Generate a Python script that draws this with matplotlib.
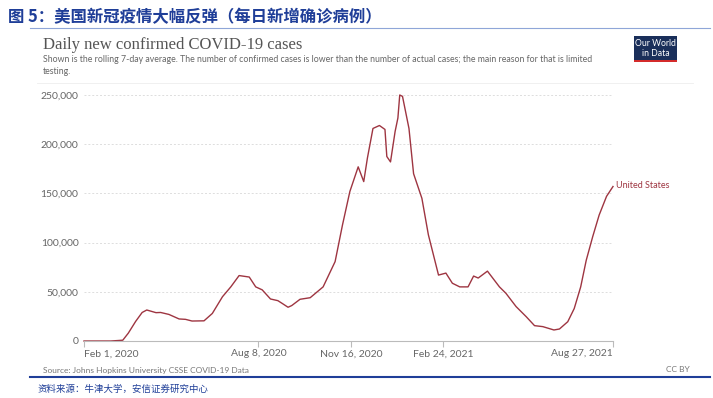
import matplotlib
matplotlib.use("Agg")
import matplotlib.pyplot as plt
import matplotlib.patches as mpatches
import numpy as np
import pandas as pd

plt.rcParams['font.family'] = ['Lato', 'DejaVu Sans']

# Data (7-day average, daily new confirmed cases, US)
dates = ["2020-02-01", "2020-03-01", "2020-03-14", "2020-03-20", "2020-03-28", "2020-04-04",
         "2020-04-09", "2020-04-19", "2020-04-24", "2020-05-03", "2020-05-14", "2020-05-21",
         "2020-05-28", "2020-06-10", "2020-06-19", "2020-06-30", "2020-07-09", "2020-07-18",
         "2020-07-29", "2020-08-05", "2020-08-12", "2020-08-21", "2020-08-29", "2020-09-03",
         "2020-09-09", "2020-09-13", "2020-09-22", "2020-10-03", "2020-10-17", "2020-10-30",
         "2020-11-07", "2020-11-15", "2020-11-24", "2020-11-30", "2020-12-04", "2020-12-10",
         "2020-12-17", "2020-12-23", "2020-12-25", "2020-12-29", "2021-01-03", "2021-01-06",
         "2021-01-08", "2021-01-11", "2021-01-18", "2021-01-23", "2021-02-01", "2021-02-08",
         "2021-02-19", "2021-02-27", "2021-03-06", "2021-03-14", "2021-03-23", "2021-03-29",
         "2021-04-03", "2021-04-13", "2021-04-26", "2021-05-03", "2021-05-14", "2021-05-25",
         "2021-06-03", "2021-06-12", "2021-06-24", "2021-06-30", "2021-07-09", "2021-07-16",
         "2021-07-23", "2021-07-29", "2021-08-05", "2021-08-12", "2021-08-20", "2021-08-27"]
cases = [0, 0, 800, 8000, 20000, 29000,
         31500, 28800, 29000, 27000, 22400, 22000,
         20300, 20500, 28000, 45000, 55000, 66500,
         65000, 55000, 52000, 42700, 41000, 38000,
         34300, 36000, 42400, 44000, 55000, 80700,
         118000, 152000, 177000, 162000, 186000, 216000,
         219000, 215000, 187500, 182000, 213000, 226600,
         250000, 248600, 216000, 170000, 145000, 108000,
         67000, 69000, 58700, 55000, 55000, 66000,
         64000, 71000, 55000, 48500, 35000, 24700,
         15600, 14600, 11200, 12200, 19600, 33000,
         55000, 82000, 106000, 128000, 147000, 157000]

yticks = [0, 50000, 100000, 150000, 200000, 250000]
xtick_dates = ["2020-02-01", "2020-08-08", "2020-11-16", "2021-02-24", "2021-08-27"]
xtick_labels = ["Feb 1, 2020", "Aug 8, 2020", "Nov 16, 2020", "Feb 24, 2021", "Aug 27, 2021"]

W, H = 713, 398
fig = plt.figure(figsize=(W / 100, H / 100), dpi=100)

def fx(px):
    return px / W

def fy(py):
    return 1 - py / H

# Chinese report header / footer
cjk = ['Noto Sans CJK SC', 'DejaVu Sans']
blue = '#1f3e98'
fig.text(fx(8), fy(17), "图 5：美国新冠疫情大幅反弹（每日新增确诊病例）", family=cjk,
         fontsize=11.8, fontweight='bold', color=blue, va='center', ha='left')
fig.add_artist(plt.Line2D([fx(30), fx(710)], [fy(28), fy(28)], color='#8fa6d8', lw=0.8))
fig.add_artist(plt.Line2D([fx(30), fx(710)], [fy(377), fy(377)], color=blue, lw=1.5))
fig.text(fx(37), fy(389), "资料来源：牛津大学，安信证券研究中心", family=cjk,
         fontsize=6.8, color=blue, va='center', ha='left')

# OWID header
fig.text(fx(43), fy(45), "Daily new confirmed COVID-19 cases", family='Liberation Serif',
         fontsize=12, color='#555555', va='center', ha='left')
fig.text(fx(43), fy(60), "Shown is the rolling 7-day average. The number of confirmed cases is lower than "
         "the number of actual cases; the main reason for that is limited",
         fontsize=6.3, color='#666666', va='center', ha='left')
fig.text(fx(43), fy(71), "testing.", fontsize=6.3, color='#666666', va='center', ha='left')
fig.add_artist(plt.Line2D([fx(37), fx(693)], [fy(83), fy(83)], color='#eeeeee', lw=0.6))

# logo
fig.add_artist(mpatches.Rectangle((fx(634), fy(62)), fx(43), 26 / H, transform=fig.transFigure,
                                  facecolor='#1a2f5a', edgecolor='none'))
fig.add_artist(mpatches.Rectangle((fx(634), fy(62)), fx(43), 2 / H, transform=fig.transFigure,
                                  facecolor='#d42b2b', edgecolor='none'))
fig.text(fx(655.5), fy(43.5), "Our World", fontsize=6.2, color='white', ha='center', va='center')
fig.text(fx(655.5), fy(53), "in Data", fontsize=6.2, color='white', ha='center', va='center')

# source line
fig.text(fx(43), fy(370), "Source: Johns Hopkins University CSSE COVID-19 Data",
         fontsize=6, color='#777777', va='center', ha='left')
fig.text(fx(690), fy(370), "CC BY", fontsize=6, color='#777777', va='center', ha='right')

# main plot
ax = fig.add_axes([fx(84), fy(341), fx(613 - 84), (341 - 95) / H])
d = pd.to_datetime(dates)
line_color = '#9e3541'
ax.plot(d, cases, color=line_color, lw=1.0, clip_on=False)

ax.set_xlim(pd.Timestamp("2020-02-01"), pd.Timestamp("2021-08-27"))
ax.set_ylim(0, 250000)
ax.set_yticks(yticks)
ax.set_yticklabels([f"{v:,}" for v in yticks])
ax.set_xticks(pd.to_datetime(xtick_dates))
ax.set_xticklabels(xtick_labels)
ax.grid(axis='y', color='#dddddd', ls=(0, (2, 2)), lw=0.7)
ax.set_axisbelow(True)
for s in ['top', 'right', 'left']:
    ax.spines[s].set_visible(False)
ax.spines['bottom'].set_color('#bbbbbb')
ax.tick_params(axis='y', length=0, pad=4, labelsize=7.5, labelcolor='#666666')
ax.tick_params(axis='x', length=4, color='#bbbbbb', pad=2, labelsize=7.5, labelcolor='#666666')
labels = ax.get_xticklabels()
labels[0].set_ha('left')
labels[-1].set_ha('right')

ax.text(pd.Timestamp("2021-08-30"), cases[-1] + 1500, "United States", fontsize=6.5,
        color=line_color, va='center', ha='left', clip_on=False)

fig.savefig("out.png", dpi=100)
